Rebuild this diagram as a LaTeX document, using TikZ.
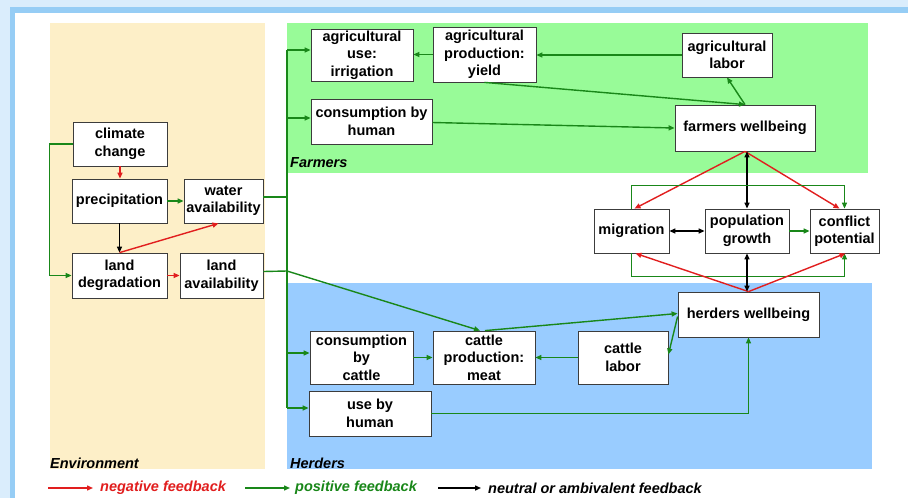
\documentclass[tikz,border=0pt]{standalone}
\usepackage{fontspec}
\setmainfont{Liberation Sans}
\usetikzlibrary{arrows.meta,calc}
\definecolor{outerblue}{RGB}{218,237,252}
\definecolor{midblue}{RGB}{150,205,245}
\definecolor{beige}{RGB}{253,239,200}
\definecolor{farmgreen}{RGB}{152,251,152}
\definecolor{herdblue}{RGB}{153,204,255}
\definecolor{posgreen}{RGB}{25,135,25}
\definecolor{negred}{RGB}{225,30,30}
\definecolor{boxgray}{RGB}{60,60,60}
\begin{document}
\begin{tikzpicture}[x=1pt,y=-1pt,
  box/.style={draw=boxgray, fill=white, line width=0.8pt, align=center, inner sep=1pt,
    font=\fontsize{14.5}{17.5}\selectfont\bfseries},
  mytip/.tip={Triangle[length=6pt,width=5pt]},
  posline/.style={draw=posgreen, line width=1.4pt},
  posarr/.style={posline, -mytip},
  negarr/.style={draw=negred, line width=1.4pt, -mytip},
  neuarr/.style={draw=black, line width=1.4pt, -mytip},
  bothr/.style={draw=black, line width=1.4pt, mytip-mytip},
  lbl/.style={font=\fontsize{14.5}{17}\selectfont\bfseries\itshape, inner sep=0pt, anchor=west}]
\useasboundingbox (0,0) rectangle (908,498);
\fill[outerblue] (0,0) rectangle (908,498);
\fill[midblue] (10,7) rectangle (908,498);
\fill[white] (15,13) rectangle (908,498);
\fill[beige] (50,23) rectangle (265,469);
\fill[farmgreen] (287,23) rectangle (868,173);
\fill[herdblue] (287,283) rectangle (872,469);

\node[lbl] (envl) at (50,463) {Environment};
\node[lbl] (farml) at (290,163) {Farmers};
\node[lbl] (herdl) at (290,463) {Herders};

% coordinates of the trunk
\coordinate (tA) at (287,50);
\coordinate (tB) at (287,118);
\coordinate (tW) at (287,197);
\coordinate (tL) at (287,271);
\coordinate (tC) at (287,353);
\coordinate (tD) at (287,408);

% nodes
\node[box, minimum width=94pt, minimum height=44pt] (cc) at (120,144) {climate\\change};
\node[box, minimum width=95pt, minimum height=44pt] (pr) at (119.5,201) {precipitation};
\node[box, minimum width=79pt, minimum height=44pt] (wa) at (223.5,201) {water\\availability};
\node[box, minimum width=95pt, minimum height=45pt] (ld) at (119.5,275.5) {land\\degradation};
\node[box, minimum width=83pt, minimum height=45pt] (la) at (221.5,275.5) {land\\availability};
\node[box, minimum width=102pt, minimum height=52pt] (au) at (362,55) {agricultural\\use:\\irrigation};
\node[box, minimum width=103pt, minimum height=55pt] (ap) at (484.5,54.5) {agricultural\\production:\\yield};
\node[box, minimum width=121pt, minimum height=45pt] (ch) at (371.5,121.5) {consumption by\\human};
\node[box, minimum width=90pt, minimum height=44pt] (al) at (727,55) {agricultural\\labor};
\node[box, minimum width=140pt, minimum height=46pt] (fw) at (745,128) {farmers wellbeing};
\node[box, minimum width=75pt, minimum height=44pt] (mi) at (631.5,231) {migration};
\node[box, minimum width=84pt, minimum height=44pt] (pg) at (747,231) {population\\growth};
\node[box, minimum width=69pt, minimum height=44pt] (cp) at (844.5,231) {conflict\\potential};
\node[box, minimum width=141pt, minimum height=45pt] (hw) at (748.5,314.5) {herders wellbeing};
\node[box, minimum width=90pt, minimum height=53pt] (cl) at (623,357.5) {cattle\\labor};
\node[box, minimum width=102pt, minimum height=53pt] (cm) at (484,357.5) {cattle\\production:\\meat};
\node[box, minimum width=103pt, minimum height=53pt] (cbc) at (361.5,357.5) {consumption\\by\\cattle};
\node[box, minimum width=122pt, minimum height=45pt] (uh) at (370,413.5) {use by\\human};

% environment connectors
\draw[posarr] (cc.west) -- ++(-23,0) |- (ld.west);
\draw[negarr] (cc.south) -- (cc.south |- pr.north);
\draw[posarr] (pr.east) -- (wa.west);
\draw[neuarr] (pr.south) -- (pr.south |- ld.north);
\draw[negarr] (ld.north) -- ($(wa.south)+(-5,0)$);
\draw[negarr] (ld.east) -- (la.west);

% trunk
\draw[posline] ($(wa.east)+(0,-4)$) -- (tW);
\draw[posline] ($(la.east)+(0,-4)$) -- (tL);
\draw[posline] (tA) -- (tD);
\draw[posarr] (tA) -- (tA -| au.west);
\draw[posarr] (tB) -- (tB -| ch.west);
\draw[posarr] (tC) -- (tC -| cbc.west);
\draw[posarr] (tD) -- (tD -| uh.west);
\draw[posarr] (tL) -- ($(cm.north)+(-4,0)$);

% farmers
\draw[posarr] (al.west) -- (al.west -| ap.east);
\draw[posarr] (ap.west) -- (ap.west -| au.east);
\draw[posarr] (ap.south) -- (fw.north);
\draw[posarr] (fw.north) -- (al.south);
\draw[posarr] ($(ch.east)+(0,1)$) -- (fw.west);

% middle
\draw[negarr] (fw.south) -- ($(mi.north)+(3,0)$);
\draw[negarr] (fw.south) -- ($(cp.north)+(-5,0)$);
\draw[bothr] (pg.north) -- (pg.north |- fw.south);
\draw[posarr] (mi.north) -- ++(0,-23) -| (cp.north);
\draw[posarr] (mi.south) -- ++(0,23) -| (cp.south);
\draw[bothr] (mi.east) -- (pg.west);
\draw[posarr] (pg.east) -- (cp.west);
\draw[negarr] (hw.north) -- ($(mi.south)+(4,0)$);
\draw[negarr] (hw.north) -- ($(cp.south)+(1,0)$);
\draw[bothr] (pg.south) -- (pg.south |- hw.north);

% herders
\draw[posarr] ($(cm.north)+(1,0)$) -- ($(hw.west)+(0,-1)$);
\draw[posarr] ($(hw.west)+(0,2)$) -- ($(cl.east)+(0,-3)$);
\draw[posarr] (cl.west) -- (cm.east);
\draw[posarr] (cbc.east) -- (cm.west);
\draw[posarr] (uh.east) -| (hw.south);

% legend
\coordinate (lr1) at (48,488); \coordinate (lr2) at (93,488);
\coordinate (lg1) at (245,488); \coordinate (lg2) at (290,488);
\coordinate (lb1) at (438,488); \coordinate (lb2) at (481,488);
\draw[negarr] (lr1) -- (lr2);
\draw[posarr] (lg1) -- (lg2);
\draw[neuarr] (lb1) -- (lb2);
\node[lbl, text=negred] (lrt) at (100,488) {negative feedback};
\node[lbl, text=posgreen] (lgt) at (295,488) {positive feedback};
\node[lbl] (lbt) at (488,488) {neutral or ambivalent feedback};
\end{tikzpicture}
\end{document}
